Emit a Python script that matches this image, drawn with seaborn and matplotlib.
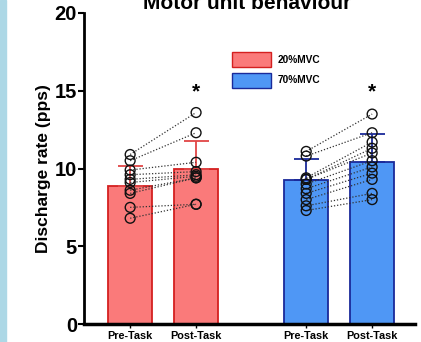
import matplotlib
matplotlib.use("Agg")
import matplotlib.pyplot as plt
import matplotlib.patches as mpatches
import seaborn as sns
import numpy as np
import pandas as pd

sns.set_style("ticks")
plt.rcParams['font.family'] = ['Liberation Sans', 'DejaVu Sans']
plt.rcParams['text.color'] = 'black'
plt.rcParams['axes.labelcolor'] = 'black'
plt.rcParams['xtick.color'] = 'black'
plt.rcParams['ytick.color'] = 'black'
plt.rcParams['axes.edgecolor'] = 'black'

# ---- data ----
tick_labels = ["Pre-Task", "Post-Task", "Pre-Task", "Post-Task"]
conditions = ["20%MVC", "20%MVC", "70%MVC", "70%MVC"]
bar_means = [8.87, 9.95, 9.27, 10.44]
bar_upper = [10.17, 11.77, 10.59, 12.2]

pre_20 = [10.9, 10.5, 9.9, 9.6, 9.3, 9.1, 8.6, 8.4, 7.5, 6.8]
post_20 = [13.6, 12.3, 10.4, 9.8, 9.6, 9.5, 9.4, 9.4, 7.7, 7.7]
pre_70 = [11.1, 10.8, 9.4, 9.3, 9.3, 9.0, 8.7, 8.4, 8.0, 7.6, 7.3]
post_70 = [13.5, 12.3, 11.7, 11.3, 11.0, 10.5, 10.1, 9.7, 9.3, 8.4, 8.0]

positions = [0.0, 1.0, 2.67, 3.67]
fill_colors = {"20%MVC": "#FA7A7A", "70%MVC": "#4F97F5"}
edge_colors = {"20%MVC": "#D42020", "70%MVC": "#1A2A9A"}
err_colors = ["#E04545", "#E04545", "#1A2A9A", "#1A2A9A"]

fig = plt.figure(figsize=(4.21, 3.42), dpi=100)
fig.patches.append(mpatches.Rectangle((0, 0), 6 / 421, 1, transform=fig.transFigure,
                                      color="#ADD8E6", zorder=0))
ax = fig.add_axes([84 / 421, 1 - 324 / 342, (415 - 84) / 421, (324 - 13) / 342])

df = pd.DataFrame({"pos": positions, "mean": bar_means, "cond": conditions})
sns.barplot(data=df, x="pos", y="mean", hue="cond", native_scale=True, dodge=False,
            width=0.67, palette=fill_colors, saturation=1, errorbar=None, ax=ax,
            legend=False, linewidth=1.3, zorder=2)
for patch, c in zip(ax.patches, conditions):
    patch.set_edgecolor(edge_colors[c])

# error bars (upper only)
for x, m, u, c in zip(positions, bar_means, bar_upper, err_colors):
    ax.errorbar([x], [m], yerr=[[0], [u - m]], fmt="none", ecolor=c, elinewidth=1.3,
                capsize=9, capthick=1.3, zorder=4)

# paired points
def paired(pre, post, x0, x1):
    n = len(pre)
    pdf = pd.DataFrame({"x": [x0] * n + [x1] * n, "y": pre + post,
                        "id": list(range(n)) * 2})
    for i in range(n):
        sub = pdf[pdf["id"] == i]
        sns.lineplot(data=sub, x="x", y="y", ax=ax, color="#333333", linestyle=(0, (1, 1.5)),
                     linewidth=0.9, zorder=5, estimator=None, sort=False)
    sns.scatterplot(data=pdf, x="x", y="y", ax=ax, s=50, facecolor="none",
                    edgecolor="#111111", linewidth=1.0, zorder=6)

paired(pre_20, post_20, positions[0], positions[1])
paired(pre_70, post_70, positions[2], positions[3])

ax.set_xlim(-0.70, 4.32)
ax.set_ylim(0, 20)
ax.set_yticks([0, 5, 10, 15, 20])
ax.set_yticklabels(["0", "5", "10", "15", "20"], fontsize=14.5, fontweight="bold")
ax.set_xticks(positions)
ax.set_xticklabels(tick_labels, fontsize=7.8, fontweight="bold")
ax.tick_params(axis="x", length=3, width=1, pad=2)
ax.tick_params(axis="y", length=4, width=1.5, pad=1)
ax.set_xlabel("")
ax.set_ylabel("Discharge rate (pps)", fontsize=12.5, fontweight="bold", labelpad=3)
for s in ["top", "right"]:
    ax.spines[s].set_visible(False)
ax.spines["left"].set_linewidth(2)
ax.spines["bottom"].set_linewidth(2.5)

# significance
for x in [positions[1], positions[3]]:
    ax.text(x, 14.9, "*", ha="center", va="center", fontsize=15, fontweight="bold")

# legend
handles = [mpatches.Patch(facecolor=fill_colors[k], edgecolor=edge_colors[k], linewidth=1, label=k)
           for k in ["20%MVC", "70%MVC"]]
ax.legend(handles=handles, loc="upper left", bbox_to_anchor=((232 - 84) / 331, 1 - (52 - 13) / 311),
          frameon=False, prop={"size": 7.3, "weight": "bold"}, handlelength=3.8, handleheight=1.9,
          labelspacing=0.55, handletextpad=0.7, borderpad=0, borderaxespad=0)

fig.text(247 / 421, 1 - 9 / 342, "Motor unit behaviour", ha="center", va="baseline",
         fontsize=15, fontweight="bold")

fig.savefig("out.png", dpi=100)
